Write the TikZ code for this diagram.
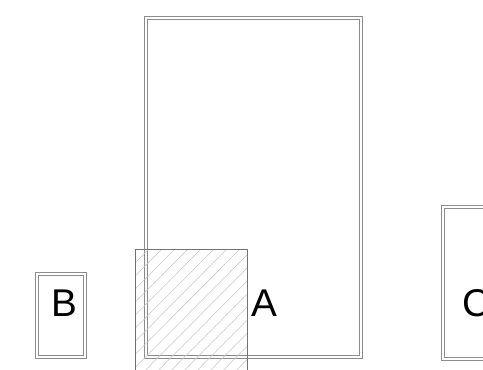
\documentclass[tikz,border=0pt]{standalone}
\usepackage{fontspec}
\setmainfont{Liberation Sans}
\begin{document}
\begin{tikzpicture}[x=0.75pt,y=0.75pt,yscale=-1,xscale=1,
  wall/.style={draw=black!45,line width=0.8pt,double=white,double distance=1.4pt},
  label/.style={anchor=base,inner sep=0pt,font=\fontsize{29}{34}\selectfont}]
\path[use as bounding box] (0,0) rectangle (483,369);
\clip (0,0) rectangle (483,369);

%Shape: Rectangle (A)
\draw[wall] (146.4,18.4) rectangle (360.8,356.6);
%Shape: Rectangle (B)
\draw[wall] (37.4,274.4) rectangle (84.6,356.6);
%Shape: Rectangle (C)
\draw[wall] (443.4,207.4) rectangle (500,358.6);

%Shape: hatched square
\begin{scope}
\clip (135.7,249.3) rectangle (247.3,380);
\foreach \i in {0,13,...,260}
  \draw[black!22,line width=0.4pt] (135.7+\i-130,380) -- (135.7+\i,249.3);
\end{scope}
\draw[black!55,line width=0.5pt] (135.7,380) -- (135.7,249.3) -- (247.3,249.3) -- (247.3,380);

% Text Node
\node[label] (labA) at (264,316.7) {A};
% Text Node
\node[label] (labB) at (64.3,316.7) {B};
% Text Node
\node[label,anchor=base west] (labC) at (462,316.7) {C};

\end{tikzpicture}
\end{document}
